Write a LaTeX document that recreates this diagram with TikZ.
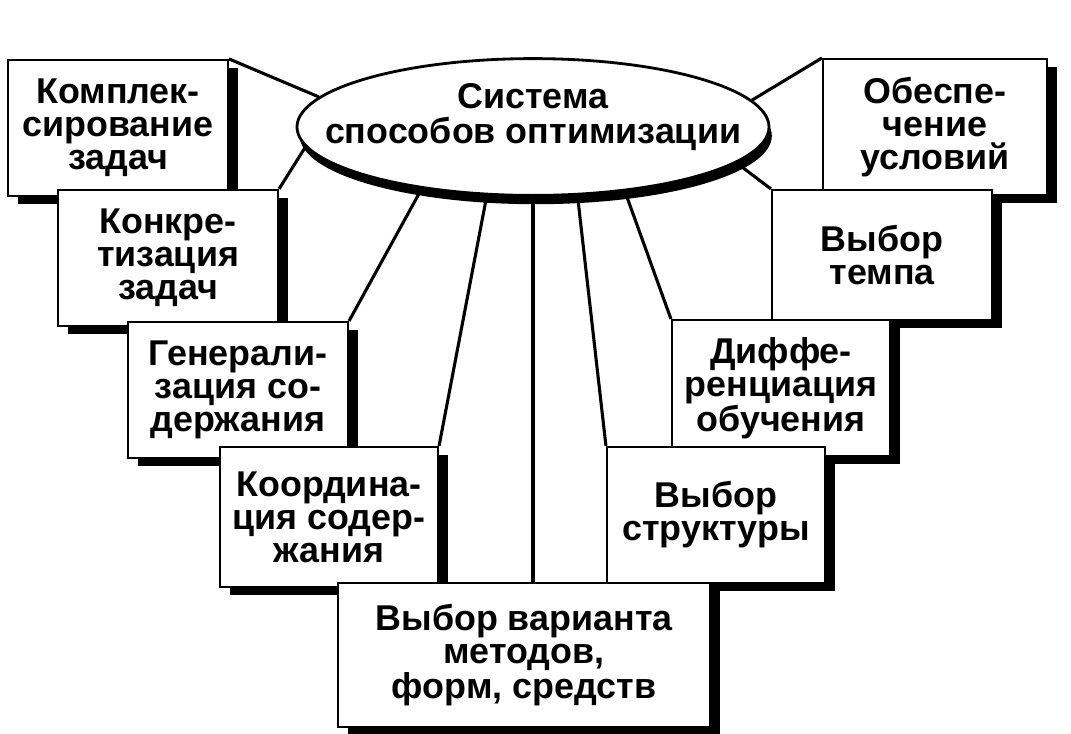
\documentclass[tikz,border=0pt]{standalone}
\usepackage{fontspec}
\setmainfont{Liberation Sans}
\usetikzlibrary{shapes.geometric,shadows}

\begin{document}
\begin{tikzpicture}[x=0.25mm,y=-0.25mm,
    tekst/.style={font=\bfseries\fontsize{25.5}{23.5}\selectfont, align=center},
    blok/.style={draw, line width=1.5pt, fill=white, tekst, inner sep=0pt,
        minimum width=5.5cm, minimum height=3.4cm,
        drop shadow={shadow xshift=0.25cm, shadow yshift=-0.2cm, fill=black, opacity=1}},
    svyaz/.style={line width=2.2pt}]

    \useasboundingbox (0,0) rectangle (1071,733);

    % centre
    \node[ellipse, draw, line width=2pt, fill=white, inner sep=0pt,
          minimum width=11.8cm, minimum height=3.42cm,
          drop shadow={shadow xshift=0.07cm, shadow yshift=-0.22cm, fill=black, opacity=1},
          label={[tekst, font=\bfseries\fontsize{25.5}{25}\selectfont, yshift=0.25cm]center:Система\\способов оптимизации}] (sys) at (533,127) {};

    % left chain
    \node[blok] (kompl)  at (118,128) {Комплек-\\сирование\\задач};
    \node[blok] (konkr)  at (168,258) {Конкре-\\тизация\\задач};
    \node[blok] (gener)  at (238,390) {Генерали-\\зация со-\\держания};
    \node[blok, minimum width=5.45cm, minimum height=3.5cm] (koord) at (329,517) {Координа-\\ция содер-\\жания};

    % right chain
    \node[blok, minimum width=5.6cm] (obesp) at (935,127) {Обеспе-\\чение\\условий};
    \node[blok, minimum height=3.25cm] (temp) at (882,255) {Выбор\\темпа};
    \node[blok, minimum width=5.45cm] (diff)  at (781,388) {Диффе-\\ренциация\\обучения};
    \node[blok, minimum width=5.45cm] (strukt) at (716,515) {Выбор\\структуры};

    % bottom
    \node[blok, minimum width=9.3cm, minimum height=3.6cm] (variant) at (524,655) {Выбор варианта\\методов,\\форм, средств};

    \draw[svyaz] (sys.172) -- (kompl.north east);
    \draw[svyaz] (sys.185) -- (konkr.north east);
    \draw[svyaz] (sys.209) -- (gener.north east);
    \draw[svyaz] (sys.236) -- (koord.north east);
    \draw[svyaz] (sys.south) -- (sys.south |- variant.north);
    \draw[svyaz] (sys.303) -- (strukt.north west);
    \draw[svyaz] (sys.325) -- (diff.north west);
    \draw[svyaz] (sys.350) -- (temp.north west);
    \draw[svyaz] (sys.7) -- (obesp.north west);
\end{tikzpicture}
\end{document}
